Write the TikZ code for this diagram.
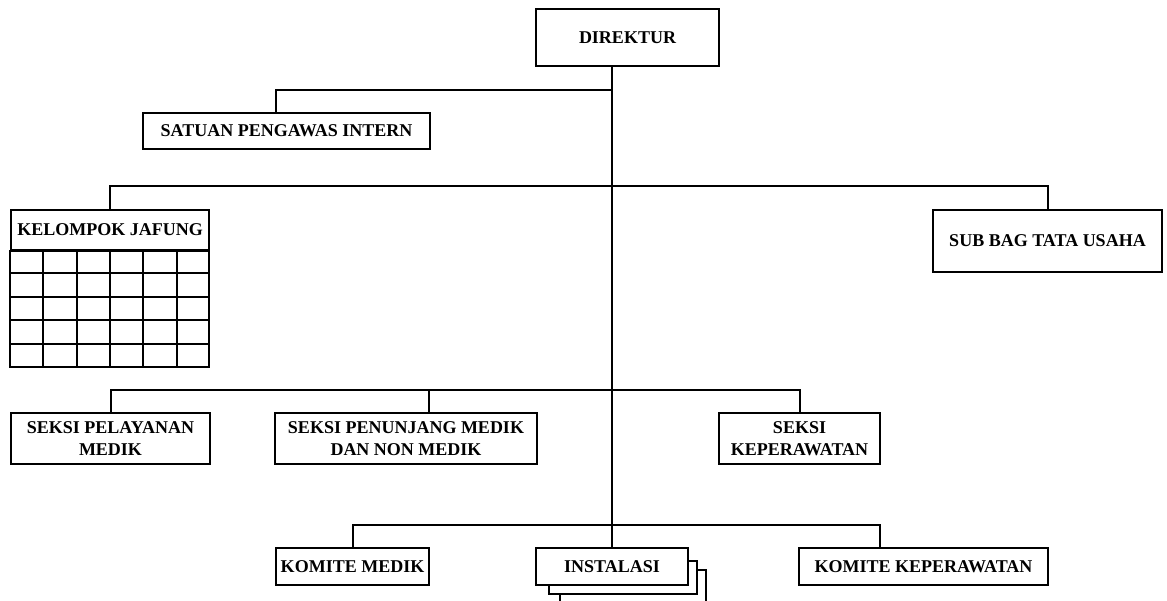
\documentclass[tikz,border=0pt]{standalone}
\usepackage{fontspec}
\setmainfont{Liberation Serif}
\begin{document}
\begin{tikzpicture}[x=1pt,y=-1pt,line width=2pt,
  box/.style={draw, fill=white, inner sep=0pt, font=\bfseries\fontsize{18}{22}\selectfont, align=center},
  link/.style={draw, line width=2pt},
  layer/.style={draw, fill=white, line width=2pt}]
\useasboundingbox (0,0) rectangle (1167,600);
% boxes
\node[box, minimum width=183pt, minimum height=57pt] (dir) at (627.5,37.5) {DIREKTUR};
\node[box, minimum width=287pt, minimum height=36pt] (spi) at (286.5,131) {SATUAN PENGAWAS INTERN};
\node[box, minimum width=198pt, minimum height=40pt] (jh) at (110,230) {KELOMPOK JAFUNG};
\node[box, minimum width=229pt, minimum height=62pt] (sub) at (1047.5,241) {SUB BAG TATA USAHA};
\node[box, minimum width=199pt, minimum height=51pt] (sp) at (110.5,438.5) {SEKSI PELAYANAN\\MEDIK};
\node[box, minimum width=262pt, minimum height=51pt] (spn) at (406,438.5) {SEKSI PENUNJANG MEDIK\\DAN NON MEDIK};
\node[box, minimum width=161pt, minimum height=51pt] (sk) at (799.5,438.5) {SEKSI\\KEPERAWATAN};
\node[box, minimum width=153pt, minimum height=37pt] (km) at (352.5,566.5) {KOMITE MEDIK};
\path[layer] (560,570) rectangle (706,612);
\path[layer] (549,561) rectangle (697,594);
\node[box, minimum width=152pt, minimum height=37pt] (inst) at (612,566.5) {INSTALASI};
\node[box, minimum width=249pt, minimum height=37pt] (kk) at (923.5,566.5) {KOMITE KEPERAWATAN};
% jafung grid
\draw (jh.south west) rectangle (209,367);
\foreach \x in {43,77,110,143,177} \draw (\x,250) -- (\x,367);
\foreach \y in {273,297,320,344} \draw (11,\y) -- (209,\y);
% trunk and buses
\coordinate (trunk) at (612,0);
\coordinate (j1) at (612,90);
\coordinate (j2) at (612,186);
\coordinate (j3) at (612,390);
\coordinate (j4) at (612,525);
\path[link] (dir.south -| trunk) -- (inst.north);
\path[link] (j1) -| ([xshift=-10.5pt]spi.north);
\path[link] (jh.north) |- (j2) -| (sub.north);
\path[link] (sp.north) |- (j3) -| (sk.north);
\path[link] (j3) -| ([xshift=23pt]spn.north);
\path[link] (km.north) |- (j4) -| ([xshift=-43.5pt]kk.north);
\end{tikzpicture}
\end{document}
